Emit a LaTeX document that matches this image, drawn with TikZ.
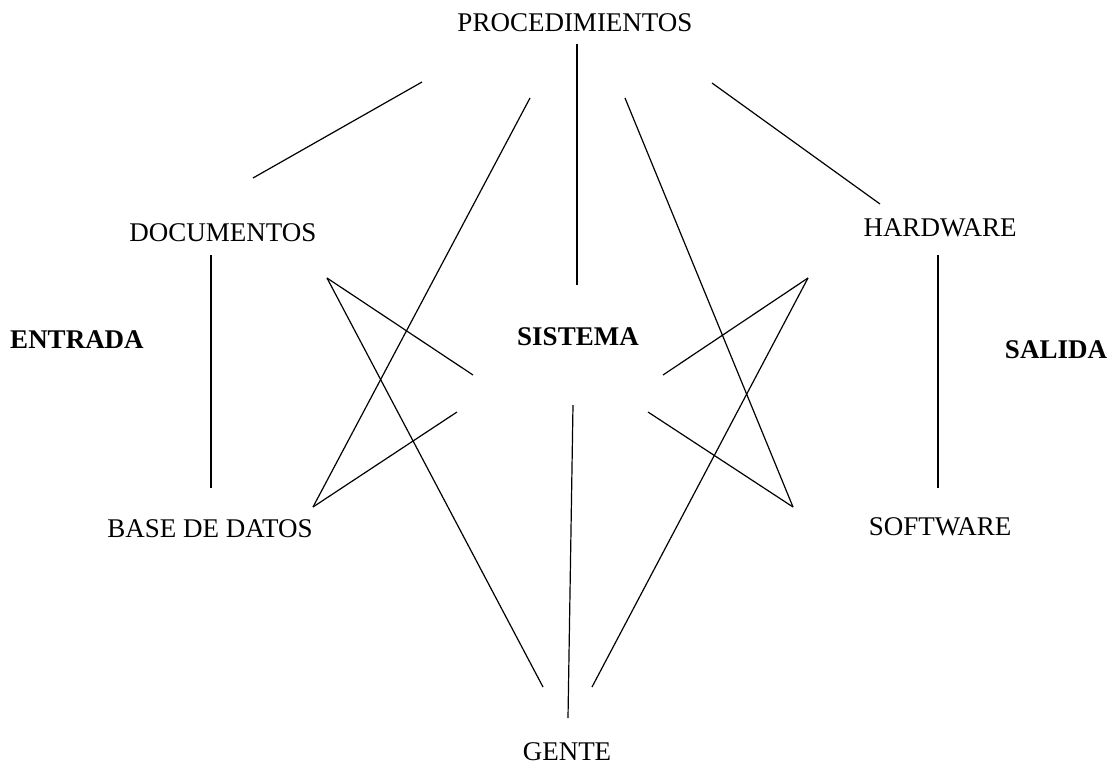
\documentclass[tikz,border=0pt]{standalone}
\usepackage{fontspec}
\setmainfont{Liberation Serif}
\usetikzlibrary{positioning}

\begin{document}
\begin{tikzpicture}[
  x=1pt, y=-1pt,
  lbl/.style={inner sep=0pt, font=\fontsize{27}{32}\selectfont},
  blbl/.style={lbl, font=\fontsize{27}{32}\selectfont\bfseries},
  enlace/.style={line width=1.2pt, line cap=butt}
]
  \useasboundingbox (0,0) rectangle (1112,769);

  % Labels of the components
  \node[lbl] (proc) at (575,23)  {PROCEDIMIENTOS};
  \node[lbl] (doc)  at (223,233) {DOCUMENTOS};
  \node[lbl] (hard) at (940,228) {HARDWARE};
  \node[lbl] (base) at (210,529) {BASE DE DATOS};
  \node[lbl] (soft) at (940,527) {SOFTWARE};
  \node[lbl] (gente) at (567,752) {GENTE};
  % Bold labels
  \node[blbl] (entrada) at (77,340)   {ENTRADA};
  \node[blbl] (sistema) at (578,337)  {SISTEMA};
  \node[blbl] (salida)  at (1056,350) {SALIDA};

  % End points of the connecting strokes
  \coordinate (a1) at (253,178);  \coordinate (a2) at (422,82);
  \coordinate (b1) at (530,98);   \coordinate (b2) at (313,507);
  \coordinate (c1) at (577,44);   \coordinate (c2) at (577,285);
  \coordinate (d1) at (625,98);   \coordinate (d2) at (793,507);
  \coordinate (e1) at (712,83);   \coordinate (e2) at (880,204);
  \coordinate (f1) at (211,255);  \coordinate (f2) at (211,488);
  \coordinate (g1) at (938,255);  \coordinate (g2) at (938,488);
  \coordinate (h1) at (327,278);  \coordinate (h2) at (473,375);
  \coordinate (i2) at (543,687);
  \coordinate (j2) at (457,412);
  \coordinate (k1) at (808,278);  \coordinate (k2) at (663,375);
  \coordinate (l2) at (592,687);
  \coordinate (m2) at (648,412);
  \coordinate (n1) at (573,405);  \coordinate (n2) at (568,718);

  % Strokes
  \foreach \p/\q in {a1/a2, b1/b2, c1/c2, d1/d2, e1/e2, f1/f2, g1/g2,
                     h1/h2, h1/i2, b2/j2, k1/k2, k1/l2, d2/m2, n1/n2}{
    \draw[enlace] (\p) -- (\q);
  }
\end{tikzpicture}
\end{document}
